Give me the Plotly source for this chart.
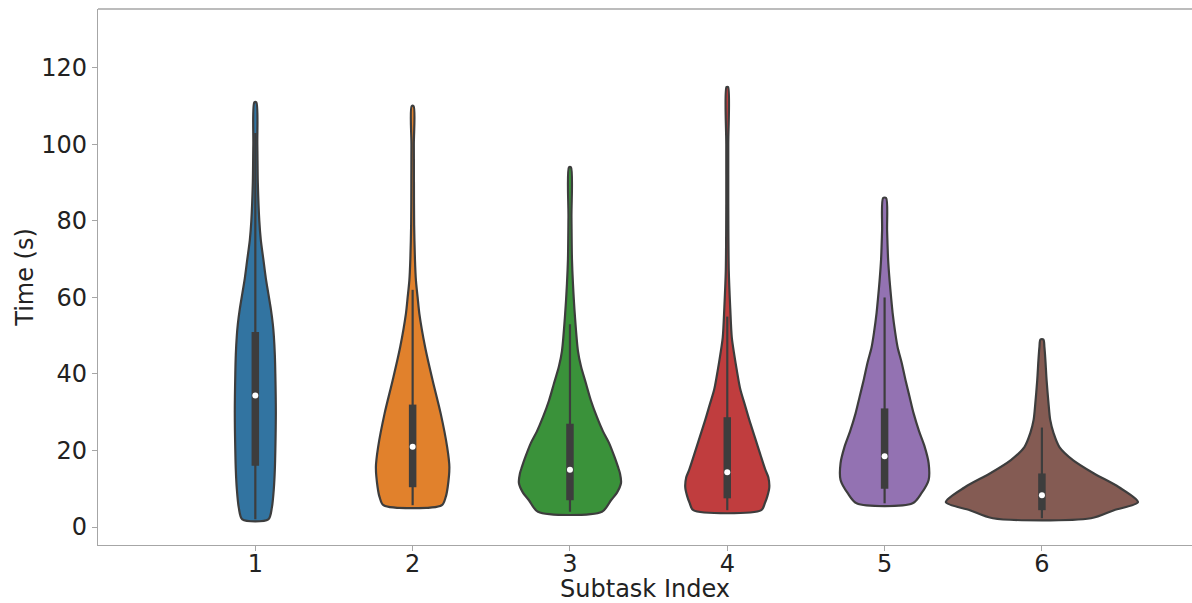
import plotly.graph_objects as go

# ---- data ----
categories = [1, 2, 3, 4, 5, 6]
colors = ["#3274a1", "#e1812c", "#3a923a", "#c03d3e", "#9372b2", "#845b53"]

# density profiles: value (s) and relative half-width of the violin
v1_y = [2, 5, 10, 15, 20, 30, 40, 45, 50, 53, 57, 61, 65, 70, 75, 80, 90, 100, 111]
v1_w = [13, 16.5, 18.5, 19.5, 20, 20.5, 20, 19.5, 18.5, 17.5, 15.5, 13, 10.5, 8, 5.5, 4, 2.5, 2, 1]

v2_y = [5.7, 7.8, 10.4, 15.7, 20.9, 29.7, 38.3, 47, 55.8, 60, 64.4, 70, 79, 90, 100, 110]
v2_w = [29, 33, 35, 36.7, 34.5, 28, 20, 12.5, 6.7, 5, 3.3, 2.3, 1.5, 1.3, 1.2, 1]

v3_y = [4, 7, 9, 11.5, 14, 15.7, 18, 22, 25, 28.7, 33, 37.5, 42, 46, 55, 63.6, 70, 81, 94]
v3_w = [32, 41, 47, 51, 50, 48, 45, 39, 33, 27, 21, 16, 11, 8, 5, 3, 2, 1.5, 1]

v4_y = [4.4, 6.2, 8, 10.4, 13, 15, 19, 23.5, 28, 32, 36, 41, 45, 49.6, 57, 67, 84.5, 100, 115]
v4_w = [34, 37.5, 40, 42, 41, 38, 33, 27.5, 22, 17.5, 13, 9.5, 7, 4.5, 3, 1.5, 1, 1, 0.8]

v5_y = [6.2, 8.9, 12.3, 16.7, 21, 25, 29.7, 34, 38.3, 43, 47, 51, 56, 60, 64.4, 70, 77.5, 86]
v5_w = [28, 37, 44, 44, 40, 34.5, 29, 25, 21, 17, 13, 10.5, 8, 6.5, 5, 3.5, 2.5, 1.5]

v6_y = [2.3, 4.4, 6.5, 10.4, 14, 17.5, 20.9, 24.5, 28, 32, 38.3, 43.5, 47, 49]
v6_w = [49, 72, 96, 77, 52, 31, 17.5, 11.7, 8.3, 6.7, 4.7, 3.5, 2.5, 1.5]

# inner box statistics
whisker_low = [2, 5.7, 4, 4.4, 6.2, 2.3]
q1 = [16, 10.4, 7, 7.5, 10, 4.4]
median = [34.4, 21, 15, 14.3, 18.5, 8.3]
q3 = [51, 32, 27, 28.7, 31, 14]
whisker_high = [103, 62, 53, 55, 60, 26]

profiles_y = [v1_y, v2_y, v3_y, v4_y, v5_y, v6_y]
profiles_w = [v1_w, v2_w, v3_w, v4_w, v5_w, v6_w]

WIDTH_SCALE = 1 / 157.2
OUTLINE = "#3d3d3d"

fig = go.Figure()

for c, col, ys, ws in zip(categories, colors, profiles_y, profiles_w):
    xr = [c + w * WIDTH_SCALE for w in ws]
    xl = [c - w * WIDTH_SCALE for w in ws]
    xs = xr + xl[::-1] + [xr[0]]
    yy = list(ys) + list(ys)[::-1] + [ys[0]]
    fig.add_trace(go.Scatter(
        x=xs, y=yy, mode="lines", fill="toself", fillcolor=col,
        line=dict(color=OUTLINE, width=2.2, shape="spline", smoothing=0.8),
        hoverinfo="skip", showlegend=False))

for i, c in enumerate(categories):
    fig.add_trace(go.Scatter(
        x=[c, c], y=[whisker_low[i], whisker_high[i]], mode="lines",
        line=dict(color=OUTLINE, width=2.2), hoverinfo="skip", showlegend=False))
    fig.add_trace(go.Scatter(
        x=[c, c], y=[q1[i], q3[i]], mode="lines",
        line=dict(color=OUTLINE, width=7.5), hoverinfo="skip", showlegend=False))

fig.add_trace(go.Scatter(
    x=categories, y=median, mode="markers",
    marker=dict(color="white", size=6, line=dict(width=0)),
    hoverinfo="skip", showlegend=False))

AX = "#a6a6a6"
FONT = dict(family="DejaVu Sans", size=24, color="#222222")

fig.update_layout(
    width=1192, height=603,
    margin=dict(l=98, r=0, t=9, b=58),
    paper_bgcolor="white", plot_bgcolor="white",
    font=FONT,
    xaxis=dict(
        range=[0, 6.954], tickmode="array", tickvals=categories,
        ticktext=[str(c) for c in categories],
        showgrid=False, zeroline=False, showline=True, linecolor=AX, linewidth=1.3,
        ticks="outside", ticklen=5, tickcolor=AX, ticklabelstandoff=-8,
        title=dict(text="Subtask Index", font=FONT, standoff=5),
        automargin=False),
    yaxis=dict(
        range=[-4.7, 135.4], tickvals=[0, 20, 40, 60, 80, 100, 120],
        showgrid=False, zeroline=False, showline=True, linecolor=AX, linewidth=1.3,
        ticks="outside", ticklen=5, tickcolor=AX,
        title=dict(text="Time (s)", font=FONT, standoff=0),
        automargin=False),
    shapes=[dict(type="line", xref="paper", yref="paper", x0=0, x1=1, y0=1, y1=1,
                 line=dict(color=AX, width=1.3), layer="above")],
)

fig.write_html("out.html", config={"displayModeBar": False},
               post_script="document.body.style.margin='0';document.body.style.overflow='hidden';")
